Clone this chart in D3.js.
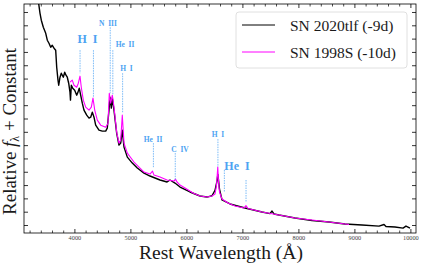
<!DOCTYPE html>
<html>
<head>
<meta charset="utf-8">
<script src="https://cdn.jsdelivr.net/npm/d3@7"></script>
<style>
body { margin: 0; background: #fff; }
svg { display: block; }
text { font-family: "Liberation Serif", "DejaVu Serif", serif; }
</style>
</head>
<body>
<svg id="chart" width="424" height="269"></svg>
<script>
// SN 2020tlf (-9d)
let tlfWave = [3330, 3386, 3409, 3445, 3488, 3516, 3546, 3577, 3605, 3636, 3666, 3684, 3707, 3720, 3743, 3766,
    3802, 3827, 3850, 3873, 3898, 3921, 3930, 3945, 3970, 4005, 4041, 4064, 4087, 4112, 4141, 4171, 4220, 4261,
    4291, 4320, 4350, 4380, 4439, 4498, 4559, 4587, 4618, 4636, 4659, 4677, 4707, 4755, 4796, 4827, 4855, 4886,
    4945, 5034, 5123, 5243, 5350, 5529, 5654, 5707, 5796, 5886, 6064, 6243, 6368, 6457, 6511, 6546, 6562, 6591,
    6636, 6779, 7046, 7350, 7493, 7529, 7564, 7654, 7939, 8243, 8546, 8832, 9136, 9439, 9529, 9564, 9725, 9868,
    9921, 9993];
let tlfFlux = [17.6, 15.9, 15.38, 14.85, 14.4, 13.88, 13.65, 13.35, 13.5, 13.28, 13.13, 11.85, 10.88, 10.5, 11.1, 11.4,
    11.1, 11.48, 11.25, 11.1, 10.65, 9.98, 9.38, 10.5, 10.28, 10.13, 9.75, 9.98, 10.28, 9.75, 9.15, 8.63, 8.25, 8.03,
    8.1, 8.48, 8.1, 7.5, 7.13, 7.05, 7.05, 7.28, 8.63, 9.6, 8.78, 9.53, 8.63, 6.9, 6.0, 6.15, 7.13, 5.85,
    5.1, 4.65, 4.28, 3.9, 3.68, 3.38, 3.23, 3.38, 3.15, 2.85, 2.48, 2.18, 2.1, 2.2, 2.6, 3.3, 3.8, 2.7,
    1.88, 1.58, 1.28, 0.98, 0.86, 1.05, 0.83, 0.75, 0.53, 0.34, 0.23, 0.08, 0.0, -0.08, 0.04, -0.11, -0.15, -0.23,
    -0.08, -0.23];

// SN 1998S (-10d)
let s98Wave = [3921, 3962, 3993, 4041, 4070, 4100, 4123, 4159, 4202, 4261, 4302, 4332, 4363, 4409, 4470, 4559,
    4600, 4623, 4648, 4677, 4707, 4755, 4796, 4827, 4855, 4886, 4945, 5064, 5243, 5350, 5395, 5421, 5529, 5654,
    5779, 5805, 5832, 5886, 5975, 6118, 6243, 6368, 6457, 6511, 6538, 6560, 6575, 6591, 6636, 6743, 6868, 7029,
    7064, 7100, 7350, 7654, 7939, 8243, 8546, 8832, 8904];
let s98Flux = [10.73, 10.88, 10.5, 10.35, 10.65, 11.18, 10.35, 9.38, 8.85, 8.63, 8.85, 9.53, 8.63, 7.88, 7.5, 7.35,
    7.65, 9.9, 9.15, 9.75, 8.85, 6.98, 6.15, 6.38, 8.25, 6.15, 5.4, 4.73, 3.98, 3.83, 4.05, 3.75, 3.6, 3.38,
    3.3, 3.45, 3.23, 3.0, 2.78, 2.4, 2.18, 2.1, 2.18, 2.33, 3.0, 4.35, 3.2, 2.48, 1.95, 1.65, 1.43, 1.28,
    1.46, 1.24, 0.98, 0.75, 0.53, 0.38, 0.23, 0.08, 0.04];

let seriesNames = ["SN 2020tlf (-9d)", "SN 1998S (-10d)"];
let seriesColors = ["#000000", "#ff00ff"];

// line identifications (dotted markers)
let markWave = [4101, 4340, 4640, 4686, 4861, 5411, 5801, 6563, 6678, 7065];
let markTop = [13.13, 13.13, 14.85, 13.13, 11.4, 6.15, 5.4, 6.45, 4.13, 3.38];
let markBottom = [11.4, 9.6, 9.9, 9.75, 8.4, 4.28, 3.38, 4.35, 2.48, 1.73];

let labelText = ["H I", "N III", "He II", "H I", "He II", "C IV", "H I", "He I"];
let labelWave = [4234, 4600, 4904, 4930, 5404, 5886, 6564, 6904];
let labelFlux = [13.65, 14.93, 13.39, 11.59, 6.23, 5.48, 6.6, 4.13];
let labelBig = [true, false, false, false, false, false, false, true];

let xTicks = [4000, 5000, 6000, 7000, 8000, 9000, 10000];

let svg = d3.select("#chart");
let margin = { top: 4, right: 8, bottom: 36, left: 24 };
let width = 424 - margin.left - margin.right;
let height = 269 - margin.top - margin.bottom;

let x = d3.scaleLinear().domain([3100, 10100]).range([0, width]);
let y = d3.scaleLinear().domain([-0.6, 16.6]).range([height, 0]);

let g = svg.append("g").attr("transform", "translate(" + margin.left + "," + margin.top + ")");

g.append("clipPath").attr("id", "clip")
    .append("rect").attr("width", width).attr("height", height);

// ticks, pointing inward on all four sides
let minorX = d3.range(3200, 10100, 200).filter(function (d) { return d % 1000 !== 0; });
let yTicks = d3.range(0, 17, 1);

g.append("g")
    .attr("transform", "translate(0," + height + ")")
    .call(d3.axisBottom(x).tickValues(xTicks).tickSize(-4).tickPadding(6).tickFormat(d3.format("d")))
    .call(function (a) {
        a.select(".domain").remove();
        a.selectAll("text").attr("font-size", 6.3).attr("fill", "#444").attr("dy", "0.2em")
            .style("font-family", "'Liberation Serif', serif");
        a.selectAll("line").attr("stroke", "#000").attr("stroke-width", 0.8);
    });
g.append("g")
    .attr("transform", "translate(0," + height + ")")
    .call(d3.axisBottom(x).tickValues(minorX).tickSize(-2.5).tickFormat(""))
    .call(function (a) { a.select(".domain").remove(); a.selectAll("line").attr("stroke-width", 0.7); });
g.append("g")
    .call(d3.axisTop(x).tickValues(xTicks).tickSize(-4).tickFormat(""))
    .call(function (a) { a.select(".domain").remove(); a.selectAll("line").attr("stroke-width", 0.8); });
g.append("g")
    .call(d3.axisTop(x).tickValues(minorX).tickSize(-2.5).tickFormat(""))
    .call(function (a) { a.select(".domain").remove(); a.selectAll("line").attr("stroke-width", 0.7); });
g.append("g")
    .call(d3.axisLeft(y).tickValues(yTicks).tickSize(-4).tickFormat(""))
    .call(function (a) { a.select(".domain").remove(); a.selectAll("line").attr("stroke-width", 0.8); });
g.append("g")
    .attr("transform", "translate(" + width + ",0)")
    .call(d3.axisRight(y).tickValues(yTicks).tickSize(-4).tickFormat(""))
    .call(function (a) { a.select(".domain").remove(); a.selectAll("line").attr("stroke-width", 0.8); });

// spectra
let line = d3.line()
    .x(function (d) { return x(d[0]); })
    .y(function (d) { return y(d[1]); });

let plot = g.append("g").attr("clip-path", "url(#clip)");

plot.append("path")
    .datum(d3.zip(tlfWave, tlfFlux))
    .attr("fill", "none")
    .attr("stroke", seriesColors[0])
    .attr("stroke-width", 1.4)
    .attr("stroke-linejoin", "round")
    .attr("d", line);

plot.append("path")
    .datum(d3.zip(s98Wave, s98Flux))
    .attr("fill", "none")
    .attr("stroke", seriesColors[1])
    .attr("stroke-width", 1.1)
    .attr("stroke-linejoin", "round")
    .attr("d", line);

// line markers
g.selectAll(".mark")
    .data(d3.range(markWave.length))
    .enter().append("line")
    .attr("class", "mark")
    .attr("x1", function (i) { return x(markWave[i]); })
    .attr("x2", function (i) { return x(markWave[i]); })
    .attr("y1", function (i) { return y(markTop[i]); })
    .attr("y2", function (i) { return y(markBottom[i]); })
    .attr("stroke", "#5aaaf5")
    .attr("stroke-width", 0.8)
    .attr("stroke-dasharray", "1.5,1");

g.selectAll(".mark-label")
    .data(d3.range(labelText.length))
    .enter().append("text")
    .attr("class", "mark-label")
    .attr("x", function (i) { return x(labelWave[i]); })
    .attr("y", function (i) { return y(labelFlux[i]); })
    .attr("text-anchor", "middle")
    .attr("font-weight", "bold")
    .attr("font-size", function (i) { return labelBig[i] ? 12 : 7.5; })
    .attr("fill", "#4da3f2")
    .style("white-space", "pre")
    .text(function (i) { return labelText[i].replace(" ", "\u00a0\u00a0"); });

// frame
g.append("rect")
    .attr("width", width).attr("height", height)
    .attr("fill", "none").attr("stroke", "#000").attr("stroke-width", 0.8);

// legend
let legend = g.append("g").attr("transform", "translate(212,8)");
legend.append("rect")
    .attr("width", 171).attr("height", 56).attr("rx", 3)
    .attr("fill", "#fff").attr("fill-opacity", 0.8)
    .attr("stroke", "#d8d8d8").attr("stroke-width", 0.8);
seriesNames.forEach(function (name, i) {
    legend.append("line")
        .attr("x1", 6).attr("x2", 39)
        .attr("y1", 13 + i * 27).attr("y2", 13 + i * 27)
        .attr("stroke", seriesColors[i]).attr("stroke-width", 1);
    legend.append("text")
        .attr("x", 54).attr("y", 18.5 + i * 27)
        .attr("font-size", 15.5)
        .attr("fill", "#1a1a1a")
        .text(name);
});

// axis titles
svg.append("text")
    .attr("x", margin.left + width / 2 + 1)
    .attr("y", 259)
    .attr("text-anchor", "middle")
    .attr("font-size", 19.5)
    .attr("fill", "#1a1a1a")
    .text("Rest Wavelength (\u00c5)");

let yt = svg.append("text")
    .attr("transform", "translate(16," + (margin.top + height / 2 + 13) + ") rotate(-90)")
    .attr("text-anchor", "middle")
    .attr("font-size", 19)
    .attr("fill", "#1a1a1a");
yt.append("tspan").text("Relative ");
yt.append("tspan").attr("font-style", "italic").text("f");
yt.append("tspan").attr("font-size", 12).attr("dy", 3).text("\u03bb");
yt.append("tspan").attr("dy", -3).text(" + Constant");
</script>
</body>
</html>
